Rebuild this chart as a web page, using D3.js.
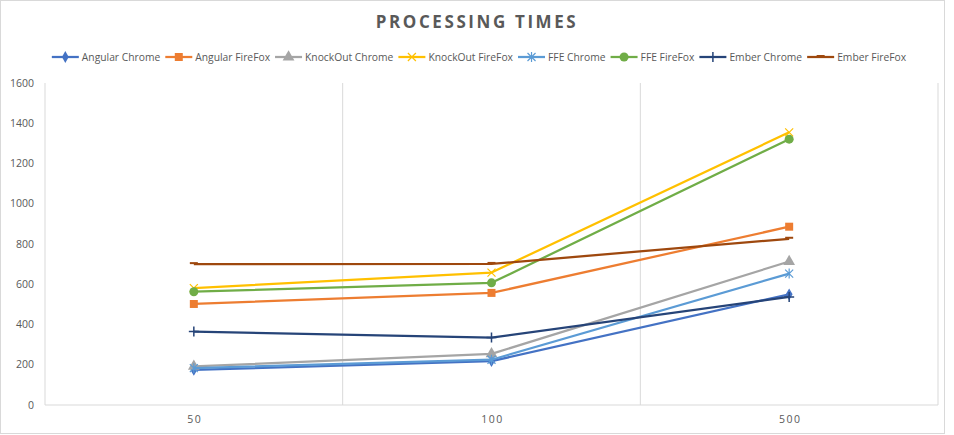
<!DOCTYPE html>
<html>
<head>
<meta charset="utf-8">
<script src="https://cdn.jsdelivr.net/npm/d3@7"></script>
<style>
  body { margin: 0; background: #fff; }
  text { font-family: "Open Sans", "Liberation Sans", sans-serif; fill: #595959; }
</style>
</head>
<body>
<div id="theChart"></div>
<script>
// data
const categories = ['50', '100', '500'];
const seriesNames = ['Angular Chrome', 'Angular FireFox', 'KnockOut Chrome', 'KnockOut FireFox',
                     'FFE Chrome', 'FFE FireFox', 'Ember Chrome', 'Ember FireFox'];
const angularChrome   = [174, 218, 550];
const angularFirefox  = [502, 557, 886];
const knockoutChrome  = [192, 254, 713];
const knockoutFirefox = [581, 658, 1355];
const ffeChrome       = [183, 225, 653];
const ffeFirefox      = [563, 607, 1321];
const emberChrome     = [365, 335, 537];
const emberFirefox    = [700, 701, 826];
const yTicks = [0, 200, 400, 600, 800, 1000, 1200, 1400, 1600];

const seriesValues = [angularChrome, angularFirefox, knockoutChrome, knockoutFirefox,
                      ffeChrome, ffeFirefox, emberChrome, emberFirefox];
const colors = ['#4472C4', '#ED7D31', '#A5A5A5', '#FFC000', '#5B9BD5', '#70AD47', '#264478', '#9E480E'];
const markers = ['diamond', 'square', 'triangle', 'x', 'star', 'circle', 'plus', 'dash'];

const WIDTH = 954, HEIGHT = 435;
const margin = { left: 45, right: 16, top: 83, bottom: 30 };

const svg = d3.select('#theChart').append('svg')
  .attr('width', WIDTH).attr('height', HEIGHT);

// chart border
svg.append('rect').attr('x', 0.5).attr('y', 0.5)
  .attr('width', WIDTH - 10).attr('height', HEIGHT - 2)
  .attr('fill', '#fff').attr('stroke', '#d9d9d9');

const x = d3.scaleBand().domain(categories).range([margin.left, WIDTH - margin.right]).padding(0);
const y = d3.scaleLinear().domain([0, 1600]).range([HEIGHT - margin.bottom, margin.top]);
const cx = c => x(c) + x.bandwidth() / 2;

// vertical gridlines at category boundaries
const bounds = categories.map(c => x(c)).concat([x.range()[1]]);
svg.append('g').selectAll('line').data(bounds).enter().append('line')
  .attr('x1', d => d).attr('x2', d => d)
  .attr('y1', y(1600)).attr('y2', y(0))
  .attr('stroke', '#d9d9d9').attr('stroke-width', 1);

// x axis line
svg.append('line')
  .attr('x1', x.range()[0]).attr('x2', x.range()[1])
  .attr('y1', y(0)).attr('y2', y(0))
  .attr('stroke', '#d9d9d9').attr('stroke-width', 1);

// y tick labels
svg.append('g').selectAll('text').data(yTicks).enter().append('text')
  .attr('x', 34).attr('y', d => y(d)).attr('dy', '0.35em')
  .attr('text-anchor', 'end').attr('font-size', 10.5)
  .text(d => d);

// x tick labels
svg.append('g').selectAll('text').data(categories).enter().append('text')
  .attr('x', d => cx(d) + 1).attr('y', 419).attr('dy', '0.35em')
  .attr('text-anchor', 'middle').attr('font-size', 10.5).attr('letter-spacing', 1.5)
  .text(d => d);

// title
svg.append('text')
  .attr('x', WIDTH / 2).attr('y', 28).attr('text-anchor', 'middle')
  .attr('font-size', 17).attr('font-weight', 'bold').attr('letter-spacing', 2.6)
  .text('PROCESSING TIMES');

// marker drawing
function drawMarker(g, type, color, px, py) {
  const s = 4;
  if (type === 'diamond') {
    g.append('path').attr('transform', `translate(${px},${py})`)
      .attr('d', d3.symbol().type(d3.symbolDiamond).size(40)).attr('fill', color);
  } else if (type === 'square') {
    g.append('path').attr('transform', `translate(${px},${py})`)
      .attr('d', d3.symbol().type(d3.symbolSquare).size(64)).attr('fill', color);
  } else if (type === 'triangle') {
    g.append('path').attr('transform', `translate(${px},${py})`)
      .attr('d', d3.symbol().type(d3.symbolTriangle).size(60)).attr('fill', color);
  } else if (type === 'circle') {
    g.append('circle').attr('cx', px).attr('cy', py).attr('r', 4.5).attr('fill', color);
  } else if (type === 'x') {
    g.append('path').attr('d', `M${px - s},${py - s}L${px + s},${py + s}M${px - s},${py + s}L${px + s},${py - s}`)
      .attr('stroke', color).attr('stroke-width', 1.2).attr('fill', 'none');
  } else if (type === 'star') {
    g.append('path').attr('d', `M${px - s},${py - s}L${px + s},${py + s}M${px - s},${py + s}L${px + s},${py - s}M${px},${py - s - 1}L${px},${py + s + 1}`)
      .attr('stroke', color).attr('stroke-width', 1.2).attr('fill', 'none');
  } else if (type === 'plus') {
    g.append('path').attr('d', `M${px - s - 1},${py}L${px + s + 1},${py}M${px},${py - s - 1}L${px},${py + s + 1}`)
      .attr('stroke', color).attr('stroke-width', 1.5).attr('fill', 'none');
  } else if (type === 'dash') {
    g.append('path').attr('d', `M${px - 4},${py - 1}L${px + 4},${py - 1}`)
      .attr('stroke', color).attr('stroke-width', 2).attr('fill', 'none');
  }
}

// lines
const line = d3.line().x(d => cx(d.c)).y(d => y(d.v));
seriesNames.forEach((name, i) => {
  const pts = categories.map((c, j) => ({ c: c, v: seriesValues[i][j] }));
  const g = svg.append('g');
  g.append('path').datum(pts)
    .attr('d', line).attr('fill', 'none')
    .attr('stroke', colors[i]).attr('stroke-width', 2.25).attr('stroke-linejoin', 'round');
  pts.forEach(p => drawMarker(g, markers[i], colors[i], cx(p.c), y(p.v)));
});

// legend
const legend = svg.append('g');
const items = [];
let lx = 0;
seriesNames.forEach((name, i) => {
  const it = legend.append('g');
  it.append('line').attr('x1', 0).attr('x2', 27).attr('y1', 0).attr('y2', 0)
    .attr('stroke', colors[i]).attr('stroke-width', 2.25);
  drawMarker(it, markers[i], colors[i], 13.5, 0);
  const t = it.append('text').attr('x', 30).attr('y', 0).attr('dy', '0.35em')
    .attr('font-size', 10.3).text(name);
  const w = 30 + t.node().getComputedTextLength();
  it.attr('transform', `translate(${lx},57)`);
  lx += w + 5;
});
legend.attr('transform', `translate(${479 - (lx - 5) / 2},0)`);
</script>
</body>
</html>
